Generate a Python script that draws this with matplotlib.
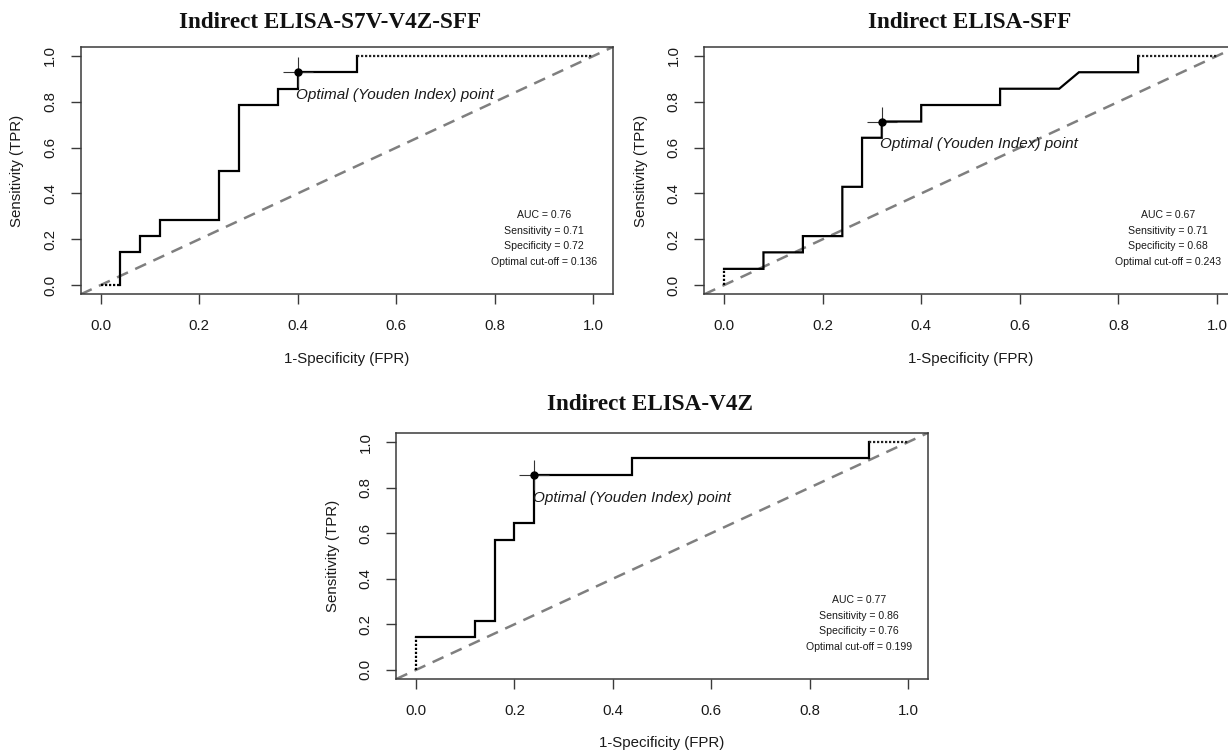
import matplotlib
matplotlib.use("Agg")
import matplotlib.pyplot as plt

plt.rcParams["font.family"] = ["Liberation Sans", "DejaVu Sans"]

# ROC curve vertices (FPR, TPR)
titles = ["Indirect ELISA-S7V-V4Z-SFF", "Indirect ELISA-SFF", "Indirect ELISA-V4Z"]

fpr_s7v = [0, 0.04, 0.04, 0.08, 0.08, 0.12, 0.12, 0.24, 0.24, 0.28, 0.28,
           0.36, 0.36, 0.40, 0.40, 0.52, 0.52, 1.0]
tpr_s7v = [0, 0, 0.143, 0.143, 0.214, 0.214, 0.286, 0.286, 0.5, 0.5, 0.786,
           0.786, 0.857, 0.857, 0.929, 0.929, 1.0, 1.0]

fpr_sff = [0, 0, 0.08, 0.08, 0.16, 0.16, 0.24, 0.24, 0.28, 0.28, 0.32, 0.32,
           0.40, 0.40, 0.56, 0.56, 0.68, 0.72, 0.84, 0.84, 1.0]
tpr_sff = [0, 0.071, 0.071, 0.143, 0.143, 0.214, 0.214, 0.429, 0.429, 0.643,
           0.643, 0.714, 0.714, 0.786, 0.786, 0.857, 0.857, 0.929, 0.929, 1.0, 1.0]

fpr_v4z = [0, 0, 0.12, 0.12, 0.16, 0.16, 0.20, 0.20, 0.24, 0.24, 0.44, 0.44,
           0.92, 0.92, 1.0]
tpr_v4z = [0, 0.143, 0.143, 0.214, 0.214, 0.571, 0.571, 0.643, 0.643, 0.857,
           0.857, 0.929, 0.929, 1.0, 1.0]

# Youden optimal points (FPR, TPR) as drawn
opt_fpr = [0.40, 0.32, 0.24]
opt_tpr = [0.929, 0.714, 0.857]

auc = [0.76, 0.67, 0.77]
sensitivity = [0.71, 0.71, 0.86]
specificity = [0.72, 0.68, 0.76]
cutoff = [0.136, 0.243, 0.199]

ticks = [0.0, 0.2, 0.4, 0.6, 0.8, 1.0]

curves = [(fpr_s7v, tpr_s7v), (fpr_sff, tpr_sff), (fpr_v4z, tpr_v4z)]

W, H = 1228, 751
fig = plt.figure(figsize=(W / 100, H / 100), dpi=100)


def px_axes(left, top, right, bottom):
    return fig.add_axes([left / W, 1 - bottom / H, (right - left) / W, (bottom - top) / H])


axes = [
    px_axes(80.8, 46.8, 613.2, 294.3),
    px_axes(704.3, 46.8, 1236.7, 294.3),
    px_axes(396.3, 433.0, 927.7, 679.0),
]
title_pos = [(330, 22), (970, 22), (650, 405)]

edge = "#3a3a3a"
for i, ax in enumerate(axes):
    fpr, tpr = curves[i]
    ax.set_xlim(-0.04, 1.04)
    ax.set_ylim(-0.04, 1.04)

    # chance diagonal
    ax.axline((0, 0), (1, 1), color="#7f7f7f", lw=1.8, linestyle=(0, (4.8, 3.2)), zorder=1)

    # solid body of the curve, dotted first and last segments
    ax.plot(fpr[1:-1], tpr[1:-1], color="black", lw=1.6, solid_joinstyle="miter", zorder=3)
    ax.plot(fpr[:2], tpr[:2], color="black", lw=1.6, linestyle=(0, (1, 0.8)), zorder=3)
    ax.plot(fpr[-2:], tpr[-2:], color="#222222", lw=1.6, linestyle=(0, (1, 0.8)), zorder=3)

    # optimal point with cross
    ax.plot(opt_fpr[i], opt_tpr[i], marker="+", ms=21, mew=0.8, color="#333333", zorder=4)
    ax.plot(opt_fpr[i], opt_tpr[i], marker="o", ms=5, color="black", zorder=5)
    ax.annotate("Optimal (Youden Index) point", (opt_fpr[i], opt_tpr[i]),
                xytext=(-1, -16.5), textcoords="offset points", ha="left", va="center",
                fontsize=11, style="italic", color="#1a1a1a", zorder=6)

    stats = [f"AUC = {auc[i]:.2f}", f"Sensitivity = {sensitivity[i]:.2f}",
             f"Specificity = {specificity[i]:.2f}", f"Optimal cut-off = {cutoff[i]:.3f}"]
    for k, s in enumerate(stats):
        ax.text(0.9, 0.305 - 0.068 * k, s, ha="center", va="center",
                fontsize=7.6, color="#1a1a1a")

    ax.set_xticks(ticks)
    ax.set_yticks(ticks)
    ax.set_xticklabels([f"{t:.1f}" for t in ticks])
    ax.set_yticklabels([f"{t:.1f}" for t in ticks], rotation=90, va="center")
    ax.tick_params(direction="out", length=7, width=1.0, color=edge,
                   labelsize=10.8, labelcolor="#1a1a1a")
    ax.tick_params(axis="x", pad=11)
    ax.tick_params(axis="y", pad=10)
    for sp in ax.spines.values():
        sp.set_color(edge)
        sp.set_linewidth(1.1)

    ax.set_xlabel("1-Specificity (FPR)", fontsize=10.8, color="#1a1a1a", va="center")
    ax.set_ylabel("Sensitivity (TPR)", fontsize=10.8, color="#1a1a1a", va="center")
    ax.xaxis.set_label_coords(0.5, -0.262)
    ax.yaxis.set_label_coords(-0.119, 0.5)

    tx, ty = title_pos[i]
    fig.text(tx / W, 1 - ty / H, titles[i], ha="center", va="center",
             family="Liberation Serif", fontweight="bold", fontsize=16.7, color="#111111")

fig.savefig("out.png", dpi=100)
